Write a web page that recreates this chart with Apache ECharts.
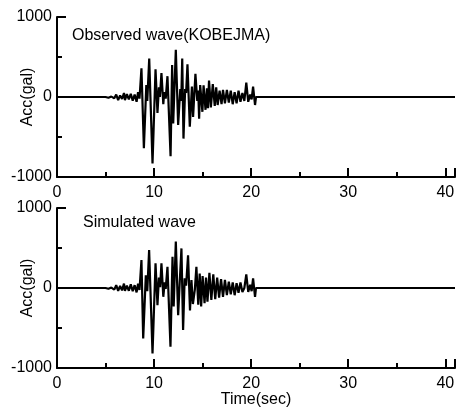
<!DOCTYPE html>
<html>
<head>
<meta charset="utf-8">
<script src="https://cdn.jsdelivr.net/npm/echarts@6/dist/echarts.min.js"></script>
<style>
html,body{margin:0;padding:0;background:#fff;}
#main{width:456px;height:409px;}
</style>
</head>
<body>
<div id="main"></div>
<script>
// time (sec), acceleration (gal)
var observedT = [0,5.0,5.3,5.6,5.9,6.1,6.3,6.5,6.7,6.9,7.0,
	7.2,7.4,7.6,7.8,8.0,8.2,8.35,8.5,8.7,8.95,
	9.2,9.3,9.5,9.84,10.15,10.35,10.5,10.6,10.76,10.95,
	11.05,11.2,11.38,11.7,11.86,11.97,12.24,12.48,12.7,12.8,
	12.9,13.03,13.2,13.3,13.44,13.68,13.9,14.02,14.26,14.45,
	14.55,14.64,14.75,14.98,15.1,15.3,15.45,15.55,15.66,15.85,
	16.05,16.25,16.4,16.55,16.75,16.95,17.1,17.3,17.5,17.7,
	17.9,18.1,18.3,18.5,18.7,18.9,19.1,19.3,19.5,19.7,
	19.9,20.05,20.2,20.4,20.5,41];
var observedA = [0,0,-10,5,-15,30,-40,20,-25,50,-40,
	35,-30,40,-45,30,-60,60,-20,360,-640,
	150,-50,480,-830,345,-200,120,0,300,-90,
	60,-20,260,-740,400,-330,590,-350,100,-50,
	480,-520,100,50,410,-370,130,-250,290,-50,
	80,-270,150,-185,145,-160,110,-140,205,-130,
	160,-110,120,-100,80,-90,90,-80,90,-70,
	80,-90,60,-80,80,-60,50,-50,180,-60,
	30,-30,130,-100,0,0];

var simulatedT = [0,5.0,5.3,5.6,5.9,6.1,6.3,6.5,6.7,6.9,7.0,
	7.2,7.4,7.6,7.8,8.0,8.2,8.35,8.5,8.7,8.88,
	9.15,9.3,9.49,9.84,10.15,10.35,10.5,10.62,10.76,10.95,
	11.1,11.2,11.38,11.69,11.9,12.02,12.24,12.48,12.65,12.82,
	12.99,13.15,13.3,13.5,13.7,13.85,14.0,14.2,14.36,14.55,
	14.7,14.85,15.0,15.2,15.35,15.5,15.7,15.9,16.1,16.3,
	16.5,16.7,16.9,17.1,17.3,17.5,17.7,17.9,18.1,18.3,
	18.5,18.7,18.9,19.1,19.3,19.5,19.7,19.9,20.05,20.2,
	20.4,20.5,41];
var simulatedA = [0,0,-10,5,-20,35,-35,25,-30,55,-35,
	30,-35,45,-40,35,-55,55,-25,350,-630,
	160,-40,475,-817,310,-215,130,10,310,-110,
	70,-10,265,-735,390,-230,580,-340,90,495,
	-525,120,30,410,-280,100,-200,-20,265,-210,
	180,-230,150,-190,130,-170,190,-150,170,-140,
	130,-120,110,-110,100,-90,80,-80,70,-90,
	60,-60,70,-50,0,170,-50,40,-40,120,
	-110,0,0];

var xTicks = [0, 10, 20, 30, 40];
var yTicks = [-1000, 0, 1000];

function pairs(t, a) {
	var out = [];
	for (var i = 0; i < t.length; i++) out.push([t[i], a[i]]);
	return out;
}

var lab = { color: '#000', fontFamily: 'Liberation Sans', fontSize: 16 };

function xAxis(idx, name) {
	return {
		type: 'value', gridIndex: idx, min: 0, max: 41, interval: 10,
		name: name, nameLocation: 'middle', nameGap: 24, nameMoveOverlap: false,
		nameTextStyle: lab,
		axisLine: { onZero: false, lineStyle: { color: '#000', width: 2 } },
		axisTick: { inside: true, length: 9, lineStyle: { color: '#000', width: 2 } },
		minorTick: { show: true, splitNumber: 2, length: 5, lineStyle: { color: '#000', width: 2 } },
		axisLabel: Object.assign({ margin: 8, showMaxLabel: false, formatter: function (v) {
			return xTicks.indexOf(v) >= 0 ? String(v) : '';
		} }, lab),
		splitLine: { show: false }
	};
}

function yAxis(idx) {
	return {
		type: 'value', gridIndex: idx, min: -1000, max: 1000, interval: 1000,
		name: 'Acc(gal)', nameLocation: 'middle', nameGap: 21, nameMoveOverlap: false,
		nameTextStyle: lab,
		axisLine: { lineStyle: { color: '#000', width: 2 } },
		axisTick: { inside: true, length: 9, lineStyle: { color: '#000', width: 2 } },
		minorTick: { show: true, splitNumber: 2, length: 5, lineStyle: { color: '#000', width: 2 } },
		axisLabel: Object.assign({ margin: 5, formatter: function (v) {
			return yTicks.indexOf(v) >= 0 ? String(v) : '';
		} }, lab),
		splitLine: { show: false }
	};
}

var chart = echarts.init(document.getElementById('main'));
var option = {
	animation: false,
	backgroundColor: '#fff',
	title: [
		{ text: 'Observed wave(KOBEJMA)', left: 72, top: 28, textStyle: { color: '#000', fontFamily: 'Liberation Sans', fontSize: 16, fontWeight: 'normal' }, padding: 0 },
		{ text: 'Simulated wave', left: 83, top: 215, textStyle: { color: '#000', fontFamily: 'Liberation Sans', fontSize: 16, fontWeight: 'normal' }, padding: 0 }
	],
	grid: [
		{ left: 57, top: 17, right: 1, height: 160, outerBoundsMode: 'none' },
		{ left: 57, top: 208, right: 1, height: 160, outerBoundsMode: 'none' }
	],
	xAxis: [xAxis(0, ''), xAxis(1, 'Time(sec)')],
	yAxis: [yAxis(0), yAxis(1)],
	series: [
		{ type: 'line', xAxisIndex: 0, yAxisIndex: 0, data: pairs(observedT, observedA), showSymbol: false, lineStyle: { color: '#000', width: 2.2 } },
		{ type: 'line', xAxisIndex: 1, yAxisIndex: 1, data: pairs(simulatedT, simulatedA), showSymbol: false, lineStyle: { color: '#000', width: 2.2 } }
	]
};
chart.setOption(option);
</script>
</body>
</html>
